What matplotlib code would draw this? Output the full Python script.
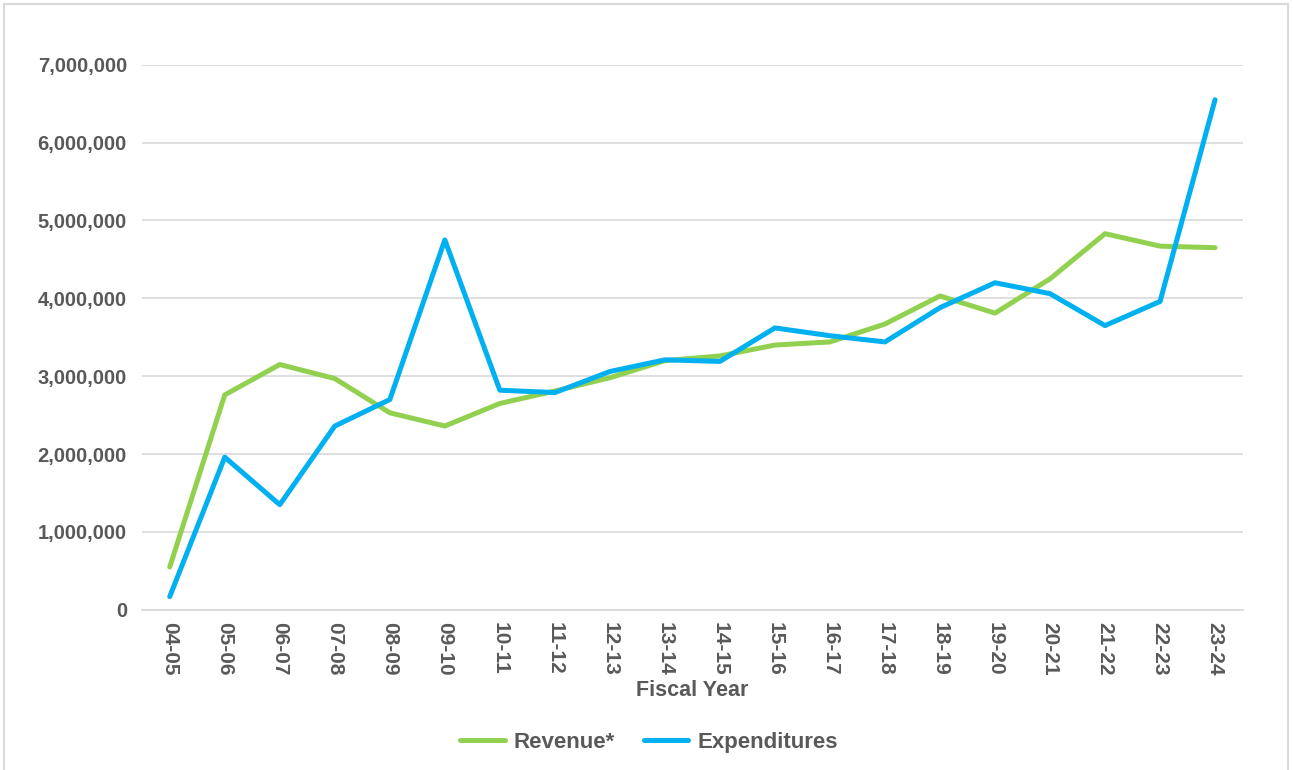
import matplotlib.pyplot as plt
from matplotlib.patches import Rectangle
from matplotlib.ticker import FuncFormatter

years = ['04-05', '05-06', '06-07', '07-08', '08-09', '09-10', '10-11', '11-12',
         '12-13', '13-14', '14-15', '15-16', '16-17', '17-18', '18-19', '19-20',
         '20-21', '21-22', '22-23', '23-24']
revenue = [550000, 2760000, 3150000, 2970000, 2530000, 2360000, 2650000, 2810000,
           2980000, 3200000, 3260000, 3400000, 3440000, 3670000, 4030000, 3810000,
           4250000, 4830000, 4670000, 4650000]
expenditures = [170000, 1960000, 1350000, 2360000, 2700000, 4750000, 2820000, 2790000,
                3060000, 3210000, 3190000, 3620000, 3520000, 3440000, 3880000, 4200000,
                4060000, 3650000, 3960000, 6550000]

plt.rcParams['font.family'] = ['Liberation Sans', 'DejaVu Sans']
grey = '#595959'

fig = plt.figure(figsize=(12.93, 7.70), dpi=100)
ax = fig.add_axes([0.110, 0.208, 0.851, 0.708])

x = range(len(years))
ax.plot(x, revenue, color='#92D050', lw=3.6, label='Revenue*', solid_capstyle='round')
ax.plot(x, expenditures, color='#00B0F0', lw=3.6, label='Expenditures', solid_capstyle='round')

ax.set_xlim(-0.5, len(years) - 0.5)
ax.set_ylim(0, 7000000)
ax.set_yticks(range(0, 7000001, 1000000))
ax.yaxis.set_major_formatter(FuncFormatter(lambda v, p: f'{int(v):,}'))
ax.set_xticks(list(x))
ax.set_xticklabels(years, rotation=-90)
ax.grid(axis='y', color='#D9D9D9', lw=1.2)
ax.set_axisbelow(True)
for s in ['top', 'right', 'left']:
    ax.spines[s].set_visible(False)
ax.spines['bottom'].set_color('#D9D9D9')
ax.spines['bottom'].set_linewidth(1.2)
ax.tick_params(axis='both', length=0, colors=grey)
ax.tick_params(axis='y', labelsize=14.5, pad=11)
ax.tick_params(axis='x', labelsize=15, pad=9)
for lab in ax.get_yticklabels() + ax.get_xticklabels():
    lab.set_fontweight('bold')

ax.set_xlabel('Fiscal Year', fontsize=15.5, fontweight='bold', color=grey, labelpad=3)

fig.legend(loc='center', bbox_to_anchor=(0.502, 0.036), ncol=2, frameon=False,
           prop={'weight': 'bold', 'size': 16}, handlelength=2.0,
           handletextpad=0.4, columnspacing=1.3, labelcolor=grey)

# light frame around the chart
fig.patches.append(Rectangle((4 / 1293, -0.01), 1284 / 1293, 1 - 4 / 770 + 0.01,
                             transform=fig.transFigure, fill=False,
                             edgecolor='#D9D9D9', lw=1.5))

fig.savefig('out.png', dpi=100)
